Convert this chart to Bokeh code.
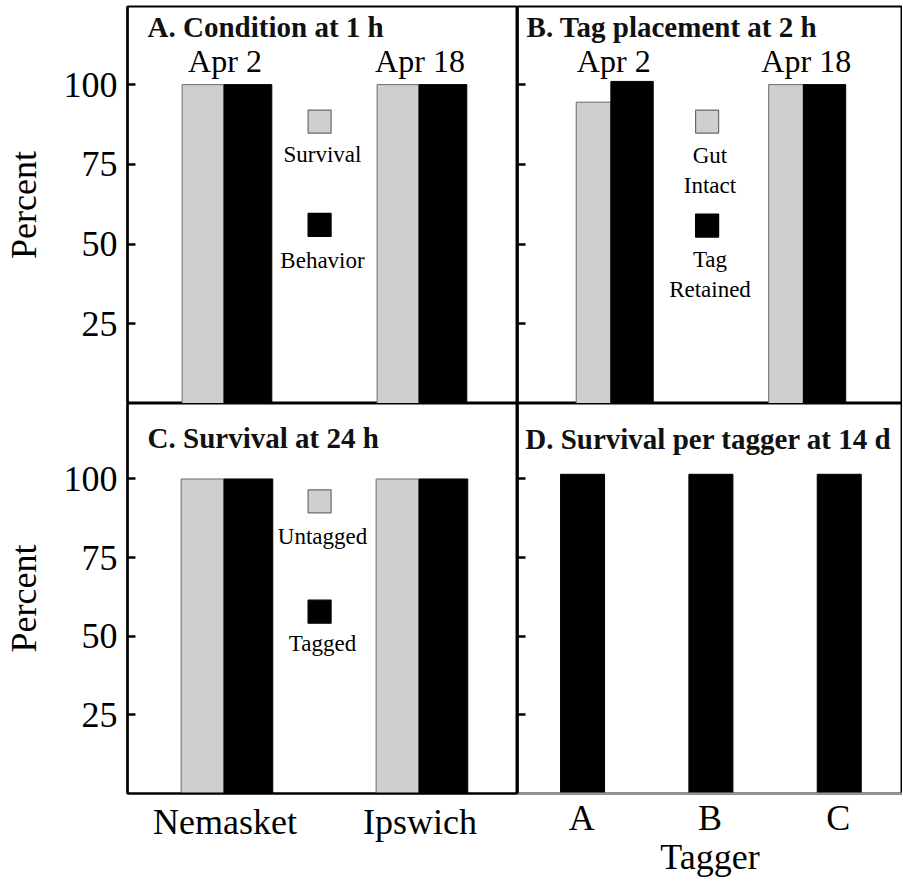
from bokeh.plotting import figure
from bokeh.layouts import column, row
from bokeh.models import FixedTicker, Range1d
from bokeh.core.properties import value
from bokeh.embed import file_html
from bokeh.resources import INLINE

# ---------------- data ----------------
sites = ["Nemasket", "Ipswich"]
dates = ["Apr 2", "Apr 18"]
taggers = ["A", "B", "C"]
y_ticks = [25, 50, 75, 100]

a_survival = [100, 100]
a_behavior = [100, 100]
b_gut_intact = [94.5, 100]
b_tag_retained = [101, 100]
c_untagged = [100, 100]
c_tagged = [100, 100]
d_survival = [101.5, 101.5, 101.5]

a_legend = ["Survival", "Behavior"]
b_legend = ["Gut\nIntact", "Tag\nRetained"]
c_legend = ["Untagged", "Tagged"]

titles = ["A. Condition at 1 h", "B. Tag placement at 2 h",
          "C. Survival at 24 h", "D. Survival per tagger at 14 d"]

FONT = "Liberation Serif"
GRAY = "#cfcfcf"
GRAY_LINE = "#6a6a6a"


def base(frame_w, frame_h, n, ytop, left_labels, bottom, top_border=0):
    p = figure(frame_width=frame_w, frame_height=frame_h,
               x_range=Range1d(0, n), y_range=Range1d(0, ytop),
               toolbar_location=None, output_backend="svg",
               x_axis_location="below" if bottom else None,
               min_border_left=127 if left_labels else 0,
               min_border_right=0, min_border_top=top_border, min_border_bottom=0)
    p.grid.visible = False
    p.outline_line_color = "black"
    p.outline_line_width = 2
    p.background_fill_color = "white"
    p.border_fill_color = "white"
    ya = p.yaxis[0]
    ya.ticker = FixedTicker(ticks=y_ticks)
    ya.major_tick_in = 8
    ya.major_tick_out = 0
    ya.major_tick_line_width = 2.5
    ya.major_tick_line_color = "black"
    ya.minor_tick_line_color = None
    ya.axis_line_width = 2.5
    ya.axis_line_color = "black"
    ya.major_label_text_font = FONT
    ya.major_label_text_color = "black"
    if left_labels:
        ya.major_label_text_font_size = "36px"
        ya.major_label_standoff = 10
        ya.axis_label = "Percent"
        ya.axis_label_text_font = FONT
        ya.axis_label_text_font_style = "normal"
        ya.axis_label_text_font_size = "36px"
        ya.axis_label_text_color = "black"
        ya.axis_label_standoff = 17
    else:
        ya.major_label_overrides = {t: "" for t in y_ticks}
        ya.major_label_standoff = 0
    return p


def style_xaxis(p, labels, standoff, axis_label=None, line_color="black"):
    xa = p.xaxis[0]
    xa.ticker = FixedTicker(ticks=[i + 0.5 for i in range(len(labels))])
    xa.major_label_overrides = {i + 0.5: lab for i, lab in enumerate(labels)}
    xa.major_tick_in = 0
    xa.major_tick_out = 0
    xa.minor_tick_line_color = None
    xa.major_label_text_font = FONT
    xa.major_label_text_font_size = "36px"
    xa.major_label_text_color = "black"
    xa.major_label_standoff = standoff
    xa.axis_line_color = line_color
    xa.axis_line_width = 2
    if axis_label:
        xa.axis_label = axis_label
        xa.axis_label_text_font = FONT
        xa.axis_label_text_font_style = "normal"
        xa.axis_label_text_font_size = "36px"
        xa.axis_label_text_color = "black"
        xa.axis_label_standoff = -4


def pair_bars(p, left_vals, right_vals, lw, rw, shift):
    n = len(left_vals)
    p.vbar(x=[i + 0.5 + shift - lw / 2 for i in range(n)], top=left_vals, bottom=0,
           width=lw, fill_color=GRAY, line_color=GRAY_LINE, line_width=1)
    p.vbar(x=[i + 0.5 + shift + rw / 2 for i in range(n)], top=right_vals, bottom=0,
           width=rw, fill_color="black", line_color="black", line_width=1)


def legend(p, labels, sq_y, txt_y, size="23px"):
    p.scatter(x=[0.985, 0.985], y=sq_y, marker="square", size=23,
              fill_color=[GRAY, "black"], line_color=[GRAY_LINE, "black"], line_width=1.2)
    p.text(x=[1.0, 1.0], y=txt_y, text=labels, text_font=value(FONT),
           text_font_size=size, text_align="center", text_baseline="middle",
           text_color="black", text_line_height=1.2)


def title(p, x, y, txt):
    p.text(x=[x], y=[y], text=[txt], text_font=value(FONT), text_font_size="29px",
           text_font_style="bold", text_align="left", text_baseline="middle",
           text_color="#111111")


def date_labels(p, labels):
    p.text(x=[i + 0.5 for i in range(len(labels))], y=[107.4] * len(labels), text=labels,
           text_font=value(FONT), text_font_size="32px", text_align="center",
           text_baseline="middle", text_color="black")


# Panel A
pa = base(390, 397, 2, 124.5, True, False, top_border=6)
pair_bars(pa, a_survival, a_behavior, 0.215, 0.245, -0.005)
legend(pa, a_legend, [88.4, 56], [78, 45])
title(pa, 0.103, 118.1, titles[0])
date_labels(pa, dates)

# Panel B
pb = base(385, 397, 2, 124.5, False, False, top_border=6)
pair_bars(pb, b_gut_intact, b_tag_retained, 0.18, 0.22, -0.015)
legend(pb, b_legend, [88.4, 55.8], [73.1, 40.6])
title(pb, 0.047, 118.1, titles[1])
date_labels(pb, dates)

# Panel C
pc = base(390, 390, 2, 124, True, True)
pair_bars(pc, c_untagged, c_tagged, 0.22, 0.25, -0.005)
legend(pc, c_legend, [92.9, 57.8], [81.6, 47.8])
title(pc, 0.103, 113, titles[2])
style_xaxis(pc, sites, 8)

# Panel D
pd_ = base(385, 390, 3, 124, False, True)
pd_.vbar(x=[i + 0.507 for i in range(len(taggers))], top=d_survival, bottom=0,
         width=0.343, fill_color="black", line_color="black")
title(pd_, 0.06, 112.6, titles[3])
style_xaxis(pd_, taggers, 4, axis_label="Tagger", line_color="#9a9a9a")

layout = column(row(pa, pb, spacing=0), row(pc, pd_, spacing=0), spacing=0)

open("out.html", "w").write(file_html(layout, INLINE))
